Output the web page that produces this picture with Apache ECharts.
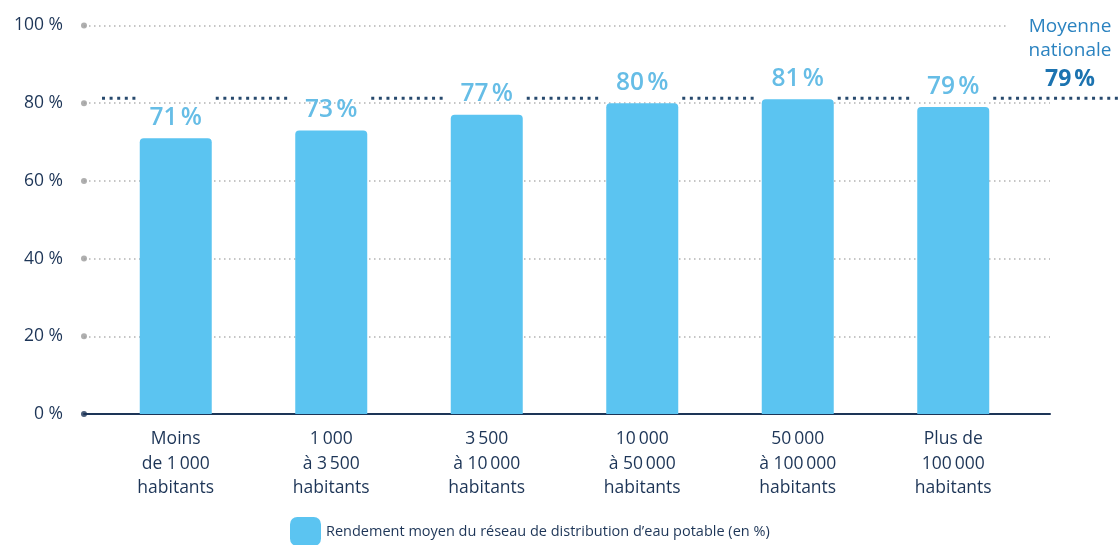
<!DOCTYPE html>
<html>
<head>
<meta charset="utf-8">
<script src="https://cdn.jsdelivr.net/npm/echarts@6/dist/echarts.min.js"></script>
<style>
  html, body { margin: 0; padding: 0; background: #fff; }
  #chart { width: 1118px; height: 545px; }
</style>
</head>
<body>
<div id="chart"></div>
<script>
// ---- data ----
var categories = [
  'Moins\nde 1\u2009000\nhabitants',
  '1\u2009000\nà 3\u2009500\nhabitants',
  '3\u2009500\nà 10\u2009000\nhabitants',
  '10\u2009000\nà 50\u2009000\nhabitants',
  '50\u2009000\nà 100\u2009000\nhabitants',
  'Plus de\n100\u2009000\nhabitants'
];
var rendement = [71, 73, 77, 80, 81, 79];
var yTicks = [0, 20, 40, 60, 80, 100];
var nationalAverage = 79;
var averageLineLevel = 81.3; // level at which the dotted reference line is drawn in the picture
var seriesName = 'Rendement moyen du réseau de distribution d\u2019eau potable (en %)';

// ---- chart ----
var FONT = "'Open Sans', 'Noto Sans', sans-serif";
var NAVY = '#1d3557';
var chart = echarts.init(document.getElementById('chart'), null, { renderer: 'canvas' });

var option = {
  animation: false,
  backgroundColor: '#ffffff',
  textStyle: { fontFamily: FONT },
  grid: [
    { left: 84, right: 68, top: 25.5, bottom: 131 },
    { left: 98, right: 87, top: 25.5, bottom: 131 }
  ],
  xAxis: [
    {
      gridIndex: 0, type: 'value', min: 0, max: 1,
      axisLine: { show: true, lineStyle: { color: NAVY, width: 2 } },
      axisTick: { show: false }, axisLabel: { show: false }, splitLine: { show: false }
    },
    {
      gridIndex: 1, type: 'category', data: categories,
      axisLine: { show: false }, axisTick: { show: false },
      axisLabel: {
        interval: 0, margin: 13, color: NAVY, fontSize: 17.5, fontWeight: 500, lineHeight: 24.5,
        fontFamily: FONT, align: 'center'
      }
    }
  ],
  yAxis: [
    {
      gridIndex: 0, type: 'value', min: 0, max: 100, interval: 20,
      axisLine: { show: false }, axisTick: { show: false },
      axisLabel: { formatter: '{value} %', margin: 21, color: NAVY, fontSize: 17.5, fontWeight: 500, fontFamily: FONT },
      splitLine: { show: true, lineStyle: { color: '#b3b3b3', width: 1.5, type: [1.5, 3.5] } }
    },
    {
      gridIndex: 1, type: 'value', min: 0, max: 100, show: false,
      splitLine: { show: false }
    }
  ],
  legend: {
    data: [seriesName],
    left: 285, top: 512,
    itemWidth: 31, itemHeight: 29,
    icon: 'roundRect',
    textStyle: { color: NAVY, fontSize: 14.5, fontWeight: 500, fontFamily: FONT, padding: [0, 0, 0, 0] },
    selectedMode: false
  },
  graphic: [
    { type: 'rect', shape: { x: 1006, y: 14, width: 112, height: 22 }, style: { fill: '#ffffff' }, z: 10 },
    { type: 'text', x: 1070, y: 27, z: 11,
      style: { text: 'Moyenne', fill: '#2b83c0', font: '500 19px ' + FONT, textAlign: 'center', textVerticalAlign: 'middle' } },
    { type: 'text', x: 1070, y: 51, z: 11,
      style: { text: 'nationale', fill: '#2b83c0', font: '500 19px ' + FONT, textAlign: 'center', textVerticalAlign: 'middle' } },
    { type: 'text', x: 1070, y: 79, z: 11,
      style: { text: nationalAverage + '\u202f%', fill: '#1c73b0', font: '700 23px ' + FONT, textAlign: 'center', textVerticalAlign: 'middle' } }
  ],
  series: [
    {
      name: 'ticks', type: 'scatter', xAxisIndex: 0, yAxisIndex: 0,
      data: yTicks.map(function (v) {
        return { value: [0, v], itemStyle: { color: v === 0 ? NAVY : '#9b9b9b' } };
      }),
      symbol: 'circle', symbolSize: 6, clip: false, silent: true, z: 5
    },
    {
      name: seriesName, type: 'bar', xAxisIndex: 1, yAxisIndex: 1,
      data: rendement, barWidth: 72,
      itemStyle: { color: '#5bc4f1', borderRadius: [4, 4, 0, 0] },
      label: {
        show: true, position: 'top', distance: 8,
        formatter: function (p) { return p.value + '\u202f%'; },
        color: '#66bde6', fontSize: 24.5, fontWeight: 600, fontFamily: FONT
      },
      z: 3
    },
    {
      name: 'avgline', type: 'custom', xAxisIndex: 1, yAxisIndex: 1,
      data: categories.map(function (c, i) { return [i, averageLineLevel]; }),
      silent: true, clip: false, z: 4,
      renderItem: function (params, api) {
        var i = api.value(0);
        var p = api.coord([i, api.value(1)]);
        var band = api.size([1, 0])[0];
        var half = 40;
        var segs = [];
        if (i === 0) segs.push([p[0] - band / 2 + 4, p[0] - half]);
        var end = (i === categories.length - 1) ? api.getWidth() : api.coord([i + 1, 0])[0] - half;
        segs.push([p[0] + half, end]);
        return {
          type: 'group',
          children: segs.map(function (s) {
            return {
              type: 'line',
              shape: { x1: s[0], y1: p[1], x2: s[1], y2: p[1] },
              style: { stroke: '#27496d', lineWidth: 3, lineDash: [3, 4.6] }
            };
          })
        };
      }
    }
  ]
};
chart.setOption(option);
</script>
</body>
</html>
